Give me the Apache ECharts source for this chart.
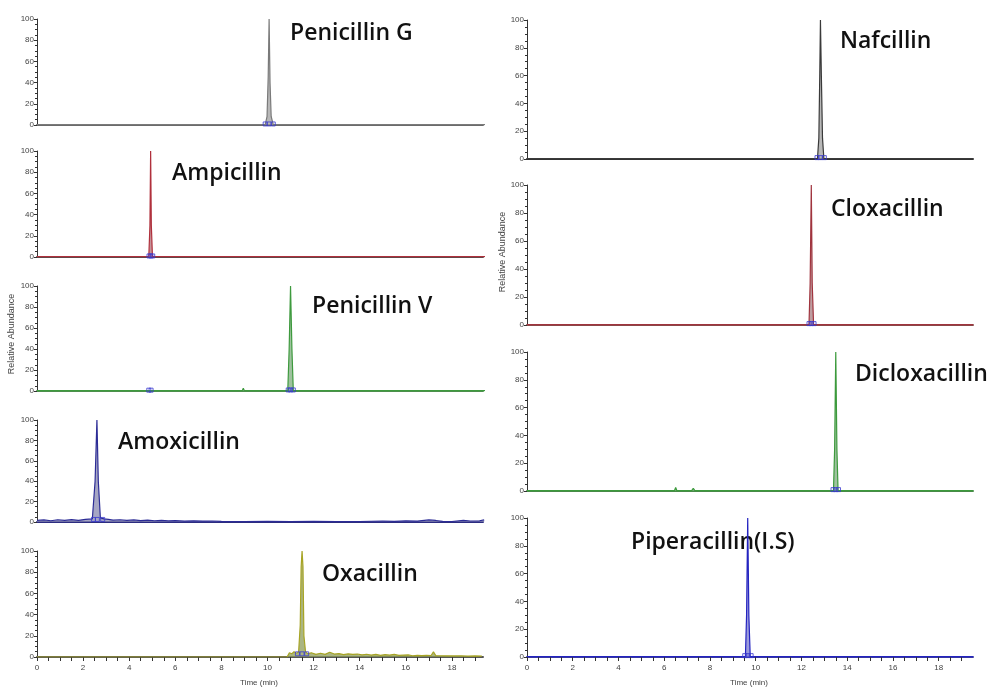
<!DOCTYPE html>
<html>
<head>
<meta charset="utf-8">
<script src="https://cdn.jsdelivr.net/npm/echarts@6/dist/echarts.min.js"></script>
<style>
html,body{margin:0;padding:0;background:#fff;}
#chart{width:989px;height:688px;}
</style>
</head>
<body>
<div id="chart"></div>
<script>
// ---- Data (retention time in min, relative abundance %) ----
const compoundNames = ['Penicillin G','Ampicillin','Penicillin V','Amoxicillin','Oxacillin',
                       'Nafcillin','Cloxacillin','Dicloxacillin','Piperacillin(I.S)'];

const penicillinG = [[0,0.4],[9.9,0.4],[9.98,8],[10.03,45],[10.07,100],[10.11,40],[10.16,8],[10.25,0.4],[19.5,0.4]];
const ampicillin  = [[0,0.3],[4.85,0.3],[4.9,30],[4.93,100],[4.96,30],[5.01,0.3],[6.15,0.3],[6.2,1.5],[6.25,0.3],[19.5,0.3]];
const penicillinV = [[0,0.3],[3.85,0.3],[3.9,1],[3.95,0.3],[8.9,0.3],[8.95,2.5],[9.0,0.3],[10.88,0.3],[10.94,40],[11.0,100],[11.06,40],[11.12,0.3],[19.5,0.3]];
const amoxicillin = [[0,1.5],[0.3,2],[0.6,1.2],[0.9,2.2],[1.2,1.5],[1.5,2.3],[1.8,1.6],[2.1,2.5],[2.4,3],[2.52,40],[2.6,100],[2.66,40],[2.75,4],[2.9,3],[3.1,2.5],[3.3,1.8],[3.6,2.2],[3.9,1.5],[4.2,2],[4.5,1.4],[4.8,1.8],[5.1,1.2],[5.4,1.6],[5.7,1.1],[6.0,1.3],[6.4,0.9],[6.8,1.2],[7.2,0.8],[7.6,1],[8.0,0.7],[9.0,0.5],[10.0,0.6],[11.0,0.5],[12.0,0.6],[13.0,0.5],[14.0,0.5],[15.0,1],[15.5,0.6],[16.0,1.2],[16.5,0.8],[17.0,2],[17.3,1.5],[17.6,0.6],[18.0,0.5],[18.5,1.5],[18.8,1],[19.2,1.2],[19.4,2]];
const oxacillin   = [[0,0],[10.85,0],[10.95,4],[11.05,3],[11.15,5],[11.25,3.5],[11.35,4.5],[11.42,30],[11.46,85],[11.5,100],[11.54,85],[11.58,20],[11.65,5],[11.75,3],[11.9,4],[12.1,2.5],[12.3,3.5],[12.5,2.5],[12.7,4.5],[12.9,2.8],[13.1,3.2],[13.3,2.2],[13.5,3],[13.7,2.5],[13.9,2.8],[14.1,2],[14.3,2.6],[14.5,1.8],[14.7,2.4],[14.9,1.6],[15.1,2.2],[15.3,1.8],[15.5,2.5],[15.7,1.5],[15.9,1.8],[16.1,2],[16.3,1.2],[16.5,1.5],[16.7,1.3],[16.9,1.6],[17.1,1.4],[17.2,5],[17.3,1.3],[17.5,1.2],[17.8,1.1],[18.1,1],[18.4,1.2],[18.7,0.8],[19.0,1],[19.3,0.8]];
const nafcillin   = [[0,0.3],[12.7,0.3],[12.76,15],[12.8,60],[12.83,100],[12.87,60],[12.92,15],[12.98,0.3],[19.5,0.3]];
const cloxacillin = [[0,0.3],[12.33,0.3],[12.38,30],[12.43,100],[12.47,30],[12.53,0.3],[19.5,0.3]];
const dicloxacillin = [[0,0.3],[6.45,0.3],[6.5,2.5],[6.55,0.3],[7.2,0.3],[7.27,2],[7.34,0.3],[12.4,0.3],[12.45,0.8],[12.5,0.3],[13.4,0.3],[13.45,30],[13.5,100],[13.55,30],[13.6,0.3],[19.5,0.3]];
const piperacillin = [[0,0.3],[9.55,0.3],[9.6,30],[9.65,100],[9.7,30],[9.76,0.3],[19.5,0.3]];

// integration (peak start / apex / end) markers
const markersPenG  = [[9.9,1],[10.07,1],[10.25,1]];
const markersAmp   = [[4.86,1],[4.94,1],[5.02,1]];
const markersPenV  = [[4.85,0.8],[4.95,0.8],[10.9,1],[11.0,1],[11.12,1]];
const markersAmox  = [[2.45,2.5],[2.62,2.5],[2.85,2.5]];
const markersOxa   = [[11.3,3],[11.5,3],[11.7,3]];
const markersNaf   = [[12.68,1],[12.83,1],[13.0,1]];
const markersClox  = [[12.33,1],[12.43,1],[12.55,1]];
const markersDiclox= [[13.38,1],[13.5,1],[13.62,1]];
const markersPiper = [[9.52,1],[9.65,1],[9.8,1]];

const yTicks = [0,20,40,60,80,100];
const xTickLabels = [0,2,4,6,8,10,12,14,16,18];
const xMaxLeft = 19.35, xMaxRight = 19.5;

// ---- Presentation ----
const traces  = [penicillinG, ampicillin, penicillinV, amoxicillin, oxacillin, nafcillin, cloxacillin, dicloxacillin, piperacillin];
const markers = [markersPenG, markersAmp, markersPenV, markersAmox, markersOxa, markersNaf, markersClox, markersDiclox, markersPiper];
const lineColors = ['#7a7a7a','#b0303c','#3e9a3e','#2c2c96','#a7a424','#3a3a3a','#a0343e','#3c9a3c','#2424c0'];
const fillColors = ['#a0a0a0','#b07078','#7fae7f','#8888b0','#8e9c58','#a0a0a0','#a87c80','#7fae7f','#7a7ad0'];
const baseColors = ['#6a6a6a','#5a4a4a','#4f8f4f','#2c2c80','#555555','#333333','#8a4a4a','#4a8a4a','#3a3aa0'];

const grids = [
  {left:37, top:19,  width:446, height:106},
  {left:37, top:151, width:446, height:106},
  {left:37, top:286, width:446, height:105},
  {left:37, top:420, width:446, height:102},
  {left:37, top:551, width:446, height:106},
  {left:527, top:20,  width:446, height:139},
  {left:527, top:185, width:446, height:140},
  {left:527, top:352, width:446, height:139},
  {left:527, top:518, width:446, height:139}
];
const bottomPanels = [4, 8];
const labelPos = [[290,33],[172,173],[312,306],[118,442],[322,574],[840,41],[831,209],[855,374],[631,542]];

const chart = echarts.init(document.getElementById('chart'), null, {renderer:'canvas'});

const xAxes = [], yAxes = [], series = [];
grids.forEach((g, i) => {
  const isBottom = bottomPanels.indexOf(i) >= 0;
  xAxes.push({
    type:'value', gridIndex:i, min:0, max:(i < 5 ? xMaxLeft : xMaxRight), interval:0.5,
    axisLine:{show:true, onZero:false, lineStyle:{color:baseColors[i], width:2}},
    axisTick:{show:isBottom, length:4, lineStyle:{color:'#333', width:1}},
    axisLabel:{show:isBottom, fontSize:8, color:'#444', margin:7, showMaxLabel:false,
      fontFamily:'Liberation Sans Narrow, Liberation Sans, sans-serif',
      formatter: v => (xTickLabels.indexOf(v) >= 0 ? String(v) : '')},
    splitLine:{show:false}
  });
  yAxes.push({
    type:'value', gridIndex:i, min:0, max:100, interval:20,
    axisLine:{show:true, lineStyle:{color:'#333', width:1}},
    axisTick:{show:true, length:3, lineStyle:{color:'#333'}},
    minorTick:{show:true, splitNumber:4, length:2, lineStyle:{color:'#333'}},
    axisLabel:{fontSize:8, color:'#444', margin:3,
      fontFamily:'Liberation Sans Narrow, Liberation Sans, sans-serif',
      formatter: v => (yTicks.indexOf(v) >= 0 ? String(v) : '')},
    splitLine:{show:false}
  });
  series.push({
    type:'line', name:compoundNames[i], xAxisIndex:i, yAxisIndex:i,
    data:traces[i], symbol:'none', animation:false,
    lineStyle:{color:lineColors[i], width:1.2},
    areaStyle:{color:fillColors[i], opacity:0.75},
    z:3
  });
  series.push({
    type:'scatter', xAxisIndex:i, yAxisIndex:i, data:markers[i],
    symbol:'rect', symbolSize:[4,4], animation:false,
    itemStyle:{color:'rgba(0,0,0,0)', borderColor:'#3a3ad0', borderWidth:1},
    z:4
  });
});

const graphics = [];
labelPos.forEach((p, i) => {
  graphics.push({type:'text', x:p[0], y:p[1],
    style:{text:compoundNames[i], font:'600 23px "Open Sans", "Noto Sans", sans-serif', fill:'#111',
      textAlign:'left', textVerticalAlign:'middle'}});
});
// y axis titles
[[12,334],[503,252]].forEach(p => {
  graphics.push({type:'text', x:p[0], y:p[1], rotation:Math.PI/2,
    style:{text:'Relative Abundance', font:'9px "Liberation Sans", sans-serif', fill:'#444',
      textAlign:'center', textVerticalAlign:'middle'}});
});
[[259,683],[749,683]].forEach(p => {
  graphics.push({type:'text', x:p[0], y:p[1],
    style:{text:'Time (min)', font:'8px "Liberation Sans Narrow", "Liberation Sans", sans-serif', fill:'#444',
      textAlign:'center', textVerticalAlign:'middle'}});
});

chart.setOption({
  animation:false,
  backgroundColor:'#fff',
  grid:grids.map(g => Object.assign({containLabel:false}, g)),
  xAxis:xAxes, yAxis:yAxes, series:series, graphic:graphics
});
</script>
</body>
</html>
